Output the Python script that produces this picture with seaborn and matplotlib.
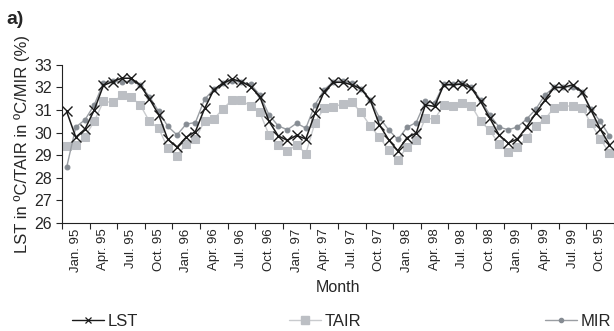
import numpy as np
import pandas as pd
import matplotlib
matplotlib.use("Agg")
import matplotlib.pyplot as plt
import seaborn as sns
from matplotlib.lines import Line2D

# Monthly values, Jan. 95 to Dec. 99
lst = [30.94, 29.8, 30.16, 31.0, 32.09, 32.26, 32.41, 32.41, 32.1, 31.5, 30.8, 29.7,
       29.36, 29.8, 30.05, 31.07, 31.9, 32.19, 32.37, 32.26, 32.04, 31.6, 30.5, 29.86,
       29.66, 29.88, 29.72, 30.86, 31.82, 32.23, 32.23, 32.12, 31.94, 31.45, 30.35, 29.69,
       29.2, 29.78, 29.98, 31.23, 31.16, 32.12, 32.12, 32.15, 31.97, 31.38, 30.64, 29.9,
       29.54, 29.72, 30.25, 30.86, 31.45, 32.0, 32.0, 32.12, 31.82, 31.0, 30.16, 29.47]
tair = [29.39, 29.44, 29.83, 30.5, 31.38, 31.34, 31.65, 31.57, 31.23, 30.5, 30.2, 29.32,
        28.99, 29.5, 29.73, 30.52, 30.6, 31.06, 31.45, 31.45, 31.16, 30.9, 29.9, 29.44,
        29.17, 29.47, 29.07, 30.45, 31.09, 31.13, 31.28, 31.35, 30.9, 30.3, 29.8, 29.24,
        28.78, 29.38, 29.69, 30.64, 30.6, 31.23, 31.2, 31.31, 31.2, 30.5, 30.1, 29.5,
        29.13, 29.35, 29.76, 30.3, 30.6, 31.11, 31.2, 31.16, 31.11, 30.42, 29.73, 29.1]
mir = [28.46, 30.25, 30.57, 31.23, 32.19, 32.3, 32.23, 32.3, 32.1, 31.6, 30.94, 30.28,
       29.9, 30.38, 30.45, 31.48, 31.92, 32.19, 32.3, 32.23, 32.15, 31.67, 30.79, 30.3,
       30.13, 30.42, 30.2, 31.23, 31.9, 32.26, 32.3, 32.19, 31.92, 31.45, 30.67, 30.13,
       29.7, 30.24, 30.45, 31.38, 31.31, 32.15, 32.16, 32.19, 32.04, 31.45, 30.79, 30.25,
       30.13, 30.25, 30.6, 31.04, 31.67, 32.01, 32.04, 32.01, 31.82, 31.04, 30.5, 29.86]

tick_labels = ["Jan. 95", "Apr. 95", "Jul. 95", "Oct. 95",
               "Jan. 96", "Apr. 96", "Jul. 96", "Oct. 96",
               "Jan. 97", "Apr. 97", "Jul. 97", "Oct. 97",
               "Jan. 98", "Apr. 98", "Jul. 98", "Oct. 98",
               "Jan. 99", "Apr. 99", "Jul. 99", "Oct. 95"]

sns.set_style("ticks")
plt.rcParams['font.family'] = ['Liberation Sans', 'DejaVu Sans']

df = pd.DataFrame({"month": np.arange(len(lst)), "LST": lst, "TAIR": tair, "MIR": mir})

fig = plt.figure(figsize=(6.14, 3.31), dpi=100)
ax = fig.add_axes([0.101, 0.326, 0.899, 0.478])

sns.lineplot(data=df, x="month", y="TAIR", ax=ax, color="#c9cbce", lw=1.0,
             marker="s", markersize=5.5, markerfacecolor="#bcbfc4", markeredgecolor="#bcbfc4")
sns.lineplot(data=df, x="month", y="MIR", ax=ax, color="#9a9ea3", lw=1.0,
             marker="o", markersize=3.5, markerfacecolor="#868c93", markeredgecolor="#868c93")
sns.lineplot(data=df, x="month", y="LST", ax=ax, color="#1a1a1a", lw=1.1,
             marker="x", markersize=7, markeredgewidth=1.0, markeredgecolor="#1a1a1a")

ax.set_xlim(-0.5, len(lst) - 0.5)
ax.set_ylim(26, 33)
ax.set_yticks(range(26, 34))
ax.tick_params(axis="y", labelsize=11.5, length=4, width=0.8, pad=3)

# tick marks between quarter groups, labels in the middle of each group
ax.set_xticks(np.arange(-0.5, len(lst), 3))
ax.set_xticklabels([])
ax.tick_params(axis="x", which="major", length=4, width=0.8)
ax.set_xticks(np.arange(1, len(lst), 3), minor=True)
ax.set_xticklabels(tick_labels, minor=True, rotation=90, fontsize=9.5)
ax.tick_params(axis="x", which="minor", length=0, pad=4)

for s in ["left", "bottom"]:
    ax.spines[s].set_linewidth(0.8)
    ax.spines[s].set_color("#222222")
sns.despine(ax=ax)

ax.set_xlabel("Month", fontsize=11.5, labelpad=6)
ax.set_ylabel("LST in ºC/TAIR in ºC/MIR (%)", fontsize=12, labelpad=3)

fig.text(6 / 614, 1 - 11 / 331, "a)", fontsize=14, fontweight="bold", va="top", ha="left")

handles = [
    Line2D([], [], color="#1a1a1a", lw=1.0, marker="x", markersize=5, markeredgewidth=0.9),
    Line2D([], [], color="#c9cbce", lw=1.0, marker="s", markersize=5.5,
           markerfacecolor="#bcbfc4", markeredgecolor="#bcbfc4"),
    Line2D([], [], color="#9a9ea3", lw=1.0, marker="o", markersize=3,
           markerfacecolor="#868c93", markeredgecolor="#868c93"),
]
names = ["LST", "TAIR", "MIR"]
starts = [72, 289, 545]
for h, name, x0 in zip(handles, names, starts):
    fig.legend([h], [name], loc="center left", bbox_to_anchor=(x0 / 614, 1 - 321 / 331),
               frameon=False, fontsize=12, handlelength=1.9, handletextpad=0.25,
               borderpad=0.0, borderaxespad=0.0)

fig.savefig("out.png", dpi=100)
